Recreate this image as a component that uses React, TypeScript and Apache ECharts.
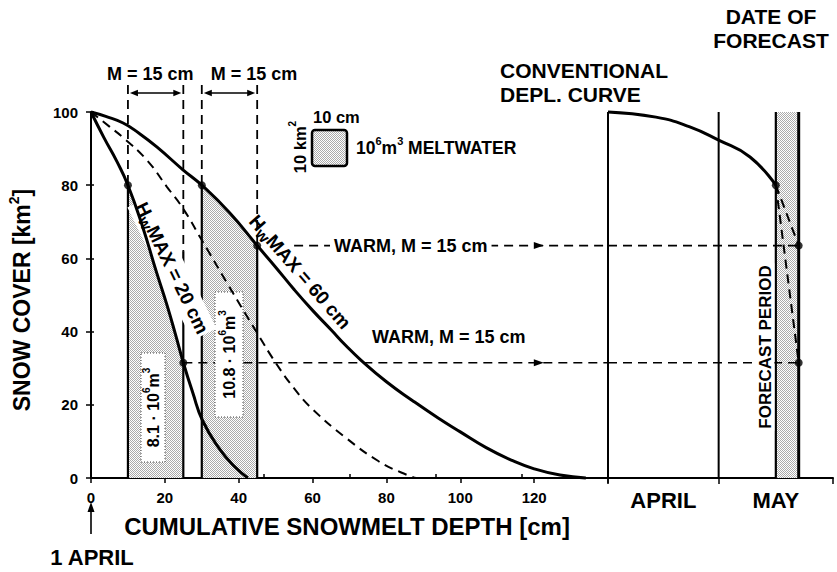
import React, { useEffect, useRef } from "react";
import * as echarts from "echarts";

// ---------------- data ----------------
const depthTicks = [0, 20, 40, 60, 80, 100, 120];
const coverTicks = [0, 20, 40, 60, 80, 100];
// snow cover [km2] vs cumulative snowmelt depth [cm]
const curveHw20 = [[0, 100], [3.5, 93], [7, 86.5], [10, 80], [14, 68.6], [17.5, 57], [20.5, 47.5], [22.8, 39.5], [25, 31.5], [27.5, 23.5], [30.3, 15.5], [35, 7.7], [39, 3], [42.5, 0]];
const curveHw60 = [[0, 100], [4, 98.8], [8.7, 97], [13, 94.2], [17.9, 90.4], [24.9, 84.2], [30, 80], [37.6, 72.4], [45, 63.5], [50, 57.6], [55, 51.5], [60, 45.8], [65, 40.5], [69, 36.2], [73, 32.3], [80, 26.3], [87, 21.2], [94, 16.4], [100, 12.6], [107, 8.3], [114, 4.8], [120, 2.5], [127, 0.8], [134, 0]];
const curveMean = [[0, 100], [5, 96], [8.7, 93], [15, 87], [20.6, 79.5], [25, 73.5], [30, 65], [37, 53], [45, 39.6], [50, 31.5], [55, 24.5], [60, 18.8], [69, 11], [78, 4.5], [84, 1.5], [88, 0]];
// conventional depletion curve, days since 1 April
const conventionalCurve = [[0, 100], [13, 98.6], [22, 96], [30, 92.3], [38.5, 87.7], [45.5, 80]];
const monthNames = ["APRIL", "MAY"];
const monthStarts = [0, 30, 61];
const monthMids = [15, 45.5];
const meltBlocks = [[10, 25], [30, 45]];
const blockJoin = [[80, 62], [80, 63.5]]; // where the dashed guide turns solid
const meltVolumes = ["8.1", "10.8"];
const pointsHw20 = [[10, 80], [25, 31.5]];
const pointsHw60 = [[30, 80], [45, 63.5]];
const forecastStart = 45.5;
const forecastEnd = 51.7;
const forecastCover = 80;
const warmHigh = 63.5;
const warmLow = 31.5;
const warmHighStart = 55;
const warmLowStart = 25;
const guideTop = 107.4;
const arrowLevel = 105.2;
const arrowAt = 121;

const FONT = '"Liberation Sans", Arial, Helvetica, sans-serif';

function makePattern() {
  const c = document.createElement("canvas");
  c.width = 2;
  c.height = 2;
  const ctx = c.getContext("2d")!;
  ctx.fillStyle = "#ffffff";
  ctx.fillRect(0, 0, 2, 2);
  ctx.fillStyle = "#ababab";
  ctx.fillRect(0, 0, 1, 1);
  ctx.fillRect(1, 1, 1, 1);
  return { image: c, repeat: "repeat", imageWidth: 2, imageHeight: 2 } as any;
}

function richStyles(size: number) {
  const base = { fontFamily: FONT, fontWeight: "bold", fill: "#000", color: "#000" };
  const sub = Math.round(size * 0.85);
  return {
    n: { ...base, fontSize: size, lineHeight: size + 8 },
    p: { ...base, fontSize: Math.round(size * 0.62), lineHeight: Math.round(size * 0.62), verticalAlign: "top" },
    sb: { ...base, fontSize: sub, lineHeight: sub, padding: [Math.round(size * 0.55), 0, 0, 0], verticalAlign: "top" },
  };
}

const between = (pts: number[][], a: number, b: number) => pts.filter((p) => p[0] >= a && p[0] <= b);

export default function App() {
  const ref = useRef<HTMLDivElement>(null);
  useEffect(() => {
    const el = ref.current!;
    const chart = echarts.init(el, null, { renderer: "svg" });
    const pattern = makePattern();
    const g0 = { xAxisIndex: 0, yAxisIndex: 0 };
    const g1 = { xAxisIndex: 1, yAxisIndex: 1 };
    const smooth = { smooth: 0.5 };
    const solid = (w: number) => ({ color: "#000", width: w, type: "solid" });
    const dashed = (w: number) => ({ color: "#000", width: w, type: [9, 6] });
    const seg = (axes: any, data: number[][], lineStyle: any, z = 2, extra: any = {}) => ({
      type: "line", ...axes, data, symbol: "none", lineStyle, z, clip: false, silent: true, ...extra,
    });

    const series: any[] = [];
    // meltwater areas
    series.push({ type: "line", ...g0, ...smooth, data: between(curveHw20, meltBlocks[0][0], meltBlocks[0][1]), symbol: "none", lineStyle: { width: 0 }, areaStyle: { color: pattern, opacity: 1 }, z: 1, silent: true });
    series.push({ type: "line", ...g0, ...smooth, data: between(curveHw60, meltBlocks[1][0], meltBlocks[1][1]), symbol: "none", lineStyle: { width: 0 }, areaStyle: { color: pattern, opacity: 1 }, z: 1, silent: true });
    // forecast period area
    series.push({ type: "line", ...g1, data: [[forecastStart, 100], [forecastEnd, 100]], symbol: "none", lineStyle: { width: 0 }, areaStyle: { color: pattern, opacity: 1 }, z: 1, silent: true });
    // block edges
    meltBlocks.forEach((b, i) => {
      b.forEach((x, j) => {
        const join = blockJoin[i][j];
        series.push(seg(g0, [[x, guideTop], [x, join]], dashed(1.8)));
        series.push(seg(g0, [[x, join], [x, 0]], solid(2.2)));
      });
    });
    // warm scenario lines
    series.push(seg(g0, [[warmHighStart, warmHigh], [140, warmHigh]], dashed(1.6)));
    series.push(seg(g1, [[0, warmHigh], [forecastEnd, warmHigh]], dashed(1.6)));
    series.push(seg(g0, [[warmLowStart, warmLow], [140, warmLow]], dashed(1.6)));
    series.push(seg(g1, [[0, warmLow], [forecastEnd, warmLow]], dashed(1.6)));
    // curves
    series.push(seg(g0, curveHw20, solid(3), 6, smooth));
    series.push(seg(g0, curveHw60, solid(3), 6, smooth));
    series.push(seg(g0, curveMean, dashed(2), 6, smooth));
    // right panel
    series.push(seg(g1, [[monthStarts[0], 0], [monthStarts[0], 100]], solid(2)));
    series.push(seg(g1, [[monthStarts[1], 0], [monthStarts[1], 100]], solid(2)));
    series.push(seg(g1, [[forecastStart, 0], [forecastStart, 100]], solid(2.2)));
    series.push(seg(g1, [[forecastEnd, 0], [forecastEnd, 100]], solid(3)));
    series.push(seg(g1, conventionalCurve, solid(3), 6, smooth));
    series.push(seg(g1, [[forecastStart, forecastCover], [forecastEnd, warmHigh]], dashed(2), 6));
    series.push(seg(g1, [[forecastStart, forecastCover], [forecastEnd, warmLow]], dashed(2), 6));
    // points
    series.push({ type: "scatter", ...g0, data: [...pointsHw20, ...pointsHw60], symbolSize: 8, itemStyle: { color: "#000" }, z: 7, silent: true });
    series.push({ type: "scatter", ...g1, data: [[forecastStart, forecastCover], [forecastEnd, warmHigh], [forecastEnd, warmLow]], symbolSize: 8, itemStyle: { color: "#000" }, z: 7, silent: true });

    const axisText = { color: "#000", fontWeight: "bold", fontFamily: FONT };
    const tickStyle = { color: "#000", width: 1.5 };
    const option: any = {
      animation: false,
      backgroundColor: "#fff",
      grid: [
        { left: 91, top: 112, width: 517, height: 366, outerBoundsMode: "none" },
        { left: 608, top: 112, width: 225, height: 366, outerBoundsMode: "none" },
      ],
      xAxis: [
        {
          gridIndex: 0, type: "value", min: 0, max: 140, interval: 20,
          axisLine: { show: true, lineStyle: { color: "#000", width: 2 } },
          axisTick: { show: true, length: 5, lineStyle: tickStyle },
          axisLabel: { ...axisText, fontSize: 15, margin: 12, formatter: (v: number) => (depthTicks.includes(v) ? String(v) : "") },
          splitLine: { show: false },
        },
        {
          gridIndex: 1, type: "value", min: 0, max: 61,
          axisLine: { show: true, lineStyle: { color: "#000", width: 2 } },
          axisTick: { show: true, length: 6, customValues: monthStarts, lineStyle: tickStyle },
          axisLabel: { ...axisText, fontSize: 22, margin: 11, customValues: monthMids, formatter: (v: number) => monthNames[monthMids.indexOf(v)] ?? "" },
          splitLine: { show: false },
        },
        {
          gridIndex: 0, type: "value", min: 0, max: 120, interval: 20, position: "bottom",
          axisLine: { show: false }, axisLabel: { show: false }, splitLine: { show: false },
          axisTick: { show: true, inside: true, length: 4, lineStyle: tickStyle },
        },
      ],
      yAxis: [
        {
          gridIndex: 0, type: "value", min: 0, max: 100, interval: 20,
          axisLine: { show: true, lineStyle: { color: "#000", width: 2 } },
          axisTick: { show: true, length: 5, lineStyle: tickStyle },
          axisLabel: { ...axisText, fontSize: 15, margin: 13, formatter: (v: number) => (coverTicks.includes(v) ? String(v) : "") },
          splitLine: { show: false },
        },
        { gridIndex: 1, type: "value", min: 0, max: 100, show: false },
        {
          gridIndex: 0, type: "value", min: 0, max: 100, interval: 20, position: "left",
          axisLine: { show: false }, axisLabel: { show: false }, splitLine: { show: false },
          axisTick: { show: true, inside: true, length: 3, lineStyle: tickStyle },
        },
      ],
      series,
    };
    chart.setOption(option);

    const P0 = (x: number, y: number) => chart.convertToPixel(g0 as any, [x, y]) as number[];
    const P1 = (x: number, y: number) => chart.convertToPixel(g1 as any, [x, y]) as number[];

    const gr: any[] = [];
    const txt = (text: string, x: number, y: number, size: number, opt: any = {}) => {
      gr.push({
        type: "text", x, y, rotation: opt.rotation || 0, z: opt.z ?? 10, silent: true,
        style: {
          text, fontSize: size, fontWeight: "bold", fontFamily: FONT, fill: "#000",
          align: opt.align || "center", verticalAlign: "middle",
          rich: opt.rich, backgroundColor: opt.bg, padding: opt.padding,
        },
      });
    };
    const tri = (pts: number[][]) => gr.push({ type: "polygon", z: 10, silent: true, shape: { points: pts }, style: { fill: "#000" } });
    const ln = (x1: number, y1: number, x2: number, y2: number, w: number, dash?: number[]) =>
      gr.push({ type: "line", z: 10, silent: true, shape: { x1, y1, x2, y2 }, style: { stroke: "#000", lineWidth: w, lineDash: dash } });

    // M = 15 cm arrows
    meltBlocks.forEach((b) => {
      const [xa, y] = P0(b[0], arrowLevel);
      const [xb] = P0(b[1], arrowLevel);
      ln(xa + 6, y, xb - 6, y, 1.6);
      tri([[xa + 2, y], [xa + 10, y - 3.2], [xa + 10, y + 3.2]]);
      tri([[xb - 2, y], [xb - 10, y - 3.2], [xb - 10, y + 3.2]]);
    });
    txt("M = 15 cm", P0(meltBlocks[0][0], 0)[0] - 21, 74, 18, { align: "left" });
    txt("M = 15 cm", P0(meltBlocks[1][0], 0)[0] + 9, 74, 18, { align: "left" });

    // legend box
    gr.push({ type: "rect", z: 10, silent: true, shape: { x: 312, y: 130, width: 35, height: 36, r: 3 }, style: { fill: pattern, stroke: "#000", lineWidth: 2.5 } });
    txt("10 cm", 313, 117, 16.5, { align: "left" });
    txt("{n|10}{p|6}{n|m}{p|3}{n| MELTWATER}", 356, 148, 17.5, { align: "left", rich: richStyles(17.5) });
    txt("{n|10 km}{p|2}", 300, 147, 16.5, { rotation: Math.PI / 2, rich: richStyles(16.5) });

    // curve labels
    txt("{n|H}{sb|w}{n|MAX = 20 cm}", 172, 268, 19, { rotation: (-64 * Math.PI) / 180, rich: richStyles(19), bg: "#fff", padding: [0, 2], z: 5 });
    txt("{n|H}{sb|w}{n|MAX = 60 cm}", 300, 272, 19, { rotation: (-49 * Math.PI) / 180, rich: richStyles(19), z: 5 });

    // meltwater volume boxes
    const boxes = [
      { x: 141, y: 353, w: 24, h: 109 },
      { x: 215, y: 292, w: 28, h: 125 },
    ];
    boxes.forEach((b, i) => {
      gr.push({ type: "rect", z: 4, silent: true, shape: { x: b.x, y: b.y, width: b.w, height: b.h }, style: { fill: "#fff", stroke: "#444", lineWidth: 1, lineDash: [1, 2] } });
      txt(`{n|${meltVolumes[i]} · 10}{p|6}{n|m}{p|3}`, b.x + b.w / 2, b.y + b.h / 2, 16, { rotation: Math.PI / 2, rich: richStyles(16), z: 5 });
    });

    // warm labels and arrows
    const yHigh = P0(0, warmHigh)[1];
    const yLow = P0(0, warmLow)[1];
    txt("WARM, M = 15 cm", 330, yHigh, 18, { align: "left", bg: "#fff", padding: [2, 4], z: 5 });
    txt("WARM, M = 15 cm", 372, yLow - 26, 18, { align: "left", z: 5 });
    [yHigh, yLow].forEach((y) => {
      const x = P0(arrowAt, 0)[0];
      tri([[x + 6, y], [x - 4, y - 3.5], [x - 4, y + 3.5]]);
    });

    // right panel texts
    txt("CONVENTIONAL", 500, 70, 21, { align: "left" });
    txt("DEPL. CURVE", 500, 94, 21, { align: "left" });
    txt("DATE OF", 771, 16, 21);
    txt("FORECAST", 771, 40, 21);
    const fx = P1(forecastStart, 0)[0];
    txt("FORECAST PERIOD", fx - 10, 347, 17, { rotation: Math.PI / 2, bg: "#fff", padding: [0, 2], z: 5 });

    // axis titles
    txt("CUMULATIVE SNOWMELT DEPTH [cm]", 347, 526, 24);
    txt("{n|SNOW COVER [km}{p|2}{n|]}", 22, 300, 23, { rotation: Math.PI / 2, rich: richStyles(23) });

    // 1 APRIL marker
    const x0 = P0(0, 0)[0];
    ln(x0, 534, x0, 510, 1.6);
    tri([[x0, 502], [x0 - 3.5, 512], [x0 + 3.5, 512]]);
    txt("1 APRIL", x0 + 1, 557, 22);

    chart.setOption({ graphic: gr });
    return () => chart.dispose();
  }, []);
  return <div ref={ref} style={{ position: "fixed", left: 0, top: 0, width: 837, height: 572, background: "#fff" }} />;
}
